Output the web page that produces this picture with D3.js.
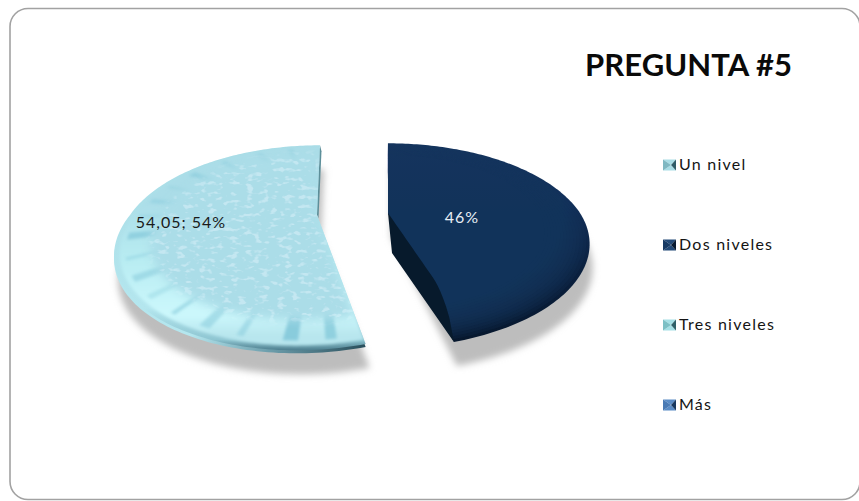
<!DOCTYPE html>
<html>
<head>
<meta charset="utf-8">
<script src="https://cdn.jsdelivr.net/npm/d3@7"></script>
<style>
  html, body { margin: 0; padding: 0; background: #fff; overflow: hidden; }
  svg { display: block; }
  text { font-family: Lato, "Open Sans", sans-serif; }
</style>
</head>
<body>
<svg id="chart" width="859" height="501"></svg>
<script>
// Survey answers for question 5
const categories = ["Un nivel", "Dos niveles", "Tres niveles", "Más"];
const seriesValues = [54.05, 45.95, 0, 0];
const sliceLabels = ["54,05; 54%", "46%", "", ""];
const titleText = "PREGUNTA #5";

// Per-category swatch tones: top/bottom, left, right facets
const swatchTones = [
  ["#a9dde6", "#7fb8c2", "#2f5c68"],
  ["#234a78", "#173a64", "#081a30"],
  ["#a5e0e6", "#7cc0c5", "#2f6068"],
  ["#5a8cc6", "#4a7ab4", "#17375e"]
];

const svg = d3.select("#chart");
const defs = svg.append("defs");

// Chart frame
svg.append("rect")
  .attr("x", 10).attr("y", 8.5).attr("width", 850).attr("height", 491)
  .attr("rx", 18).attr("ry", 18)
  .attr("fill", "#fff").attr("stroke", "#a2a2a2").attr("stroke-width", 1.6);

// Perspective ground plane: depth values nearer the viewer spread further apart
const planeDepth = 92, perspective = 0.32;
function project(hub, angle, r) {
  const X = r * Math.sin(angle), Y = -r * Math.cos(angle);
  const s = 1 / (1 - perspective * Y);
  const shear = Y > 0 ? hub.shearNear : hub.shearFar;
  return [hub.x + (hub.width * X + shear * Y) * s, hub.y + planeDepth * Y * s];
}

const pie = d3.pie().sort(null)
  .startAngle(165.4 * Math.PI / 180)
  .endAngle((165.4 + 360) * Math.PI / 180);
const arcs = pie(seriesValues);

const line = d3.line().curve(d3.curveLinear);
function sectorPoints(hub, a, r) {
  const n = Math.ceil((a.endAngle - a.startAngle) / 0.02);
  const rim = d3.range(n + 1).map(i =>
    project(hub, a.startAngle + (a.endAngle - a.startAngle) * i / n, r));
  return [[hub.x, hub.y], ...rim];
}
const sectorPath = (hub, a, r) => line(sectorPoints(hub, a, r)) + "Z";

// Exploded slice hubs
const hubs = [
  { x: 317, y: 215, width: 187, shearFar: -4, shearNear: -14 },
  { x: 388, y: 213, width: 192, shearFar: 0, shearNear: -3 }
];

// Filters and gradients
const soft = defs.append("filter").attr("id", "shadowBlur")
  .attr("x", "-10%").attr("y", "-10%").attr("width", "120%").attr("height", "120%");
soft.append("feGaussianBlur").attr("stdDeviation", 3.5);

const faint = defs.append("filter").attr("id", "faintBlur")
  .attr("x", "-5%").attr("y", "-5%").attr("width", "110%").attr("height", "110%");
faint.append("feGaussianBlur").attr("stdDeviation", 1.5);

const edgeBlur = defs.append("filter").attr("id", "edgeBlur")
  .attr("x", "-5%").attr("y", "-5%").attr("width", "110%").attr("height", "110%");
edgeBlur.append("feGaussianBlur").attr("stdDeviation", 4);

// Water-drop surface for the light slice
const drops = defs.append("filter").attr("id", "drops")
  .attr("x", "0%").attr("y", "0%").attr("width", "100%").attr("height", "100%");
drops.append("feTurbulence").attr("type", "fractalNoise")
  .attr("baseFrequency", "0.13 0.22").attr("numOctaves", 2).attr("seed", 11).attr("result", "n");
drops.append("feColorMatrix").attr("in", "n").attr("type", "matrix")
  .attr("values", "0 0 0 0 0.55  0 0 0 0 0.80  0 0 0 0 0.88  6 0 0 0 -3.3").attr("result", "spots");
drops.append("feGaussianBlur").attr("in", "spots").attr("stdDeviation", 0.6).attr("result", "spotsSoft");
drops.append("feComposite").attr("in", "spotsSoft").attr("in2", "SourceAlpha").attr("operator", "in").attr("result", "clipped");
const dropsMerge = drops.append("feMerge");
dropsMerge.append("feMergeNode").attr("in", "SourceGraphic");
dropsMerge.append("feMergeNode").attr("in", "clipped");

function gradient(id, x1, y1, x2, y2, stops) {
  const g = defs.append("linearGradient").attr("id", id)
    .attr("gradientUnits", "userSpaceOnUse")
    .attr("x1", x1).attr("x2", x2).attr("y1", y1).attr("y2", y2);
  stops.forEach(([o, c]) => g.append("stop").attr("offset", o).attr("stop-color", c));
}
gradient("lightRim", 0, 140, 0, 350, [[0, "#a8dce6"], [0.8, "#b4e6ee"], [0.95, "#8fc6d2"], [1, "#4f8090"]]);
gradient("lightBevel", 0, 200, 0, 335, [[0, "#abdde8"], [0.45, "#b8ecf2"], [0.85, "#ccf8fc"], [1, "#b8e6ee"]]);
gradient("lightThickness", 190, 0, 365, 0, [[0, "#b4e6ee"], [0.45, "#6d9eac"], [1, "#2a4f5c"]]);
gradient("darkRim", 0, 140, 0, 350, [[0, "#15355e"], [0.3, "#12305a"], [0.6, "#0b2140"], [1, "#06162b"]]);

const plot = svg.append("g");

// Drop shadows on the ground
plot.append("path").attr("d", sectorPath(hubs[0], arcs[0], 1))
  .attr("transform", "translate(4,24)").attr("fill", "#bdbdbd").attr("filter", "url(#shadowBlur)");
plot.append("path").attr("d", sectorPath(hubs[1], arcs[1], 1))
  .attr("transform", "translate(3,24)").attr("fill", "#bdbdbd").attr("filter", "url(#shadowBlur)");

// Light slice: rim, bright bevel, streaks, textured top
const lightArc = arcs[0], lightHub = hubs[0];
const light = plot.append("g");
defs.append("clipPath").attr("id", "lightClip").append("path")
  .attr("d", sectorPath(lightHub, lightArc, 1));
defs.append("mask").attr("id", "dropFade")
  .attr("maskUnits", "userSpaceOnUse")
  .attr("x", 0).attr("y", 0).attr("width", 859).attr("height", 501)
  .append("path")
  .attr("d", sectorPath(lightHub, lightArc, 0.84))
  .attr("fill", "#fff").attr("filter", "url(#edgeBlur)");

// Narrow side wall behind the upper straight edge
const lightTop = project(lightHub, lightArc.endAngle, 1);
light.append("path")
  .attr("d", line([lightTop, [lightTop[0] + 1.5, lightTop[1] + 6], [lightHub.x + 1.5, lightHub.y + 3], [lightHub.x, lightHub.y]]) + "Z")
  .attr("fill", "#5d8f9a");

// Rim thickness under the near edge
light.append("path").attr("d", sectorPath(lightHub, lightArc, 1))
  .attr("transform", "translate(0,3)").attr("fill", "url(#lightThickness)");

light.append("path").attr("d", sectorPath(lightHub, lightArc, 1)).attr("fill", "url(#lightRim)");

const lightInner = light.append("g").attr("clip-path", "url(#lightClip)");
lightInner.append("path").attr("d", sectorPath(lightHub, lightArc, 0.975))
  .attr("fill", "url(#lightBevel)").attr("filter", "url(#faintBlur)");

// Radial streaks in the bevel: each entry is [position along the rim, width, strength]
const rimStreaks = [
  [0.03, 0.045, 0.8], [0.075, 0.06, 0.95], [0.14, 0.03, 0.5], [0.185, 0.05, 0.55], [0.24, 0.025, 0.6],
  [0.29, 0.04, 0.35], [0.34, 0.06, 0.55], [0.40, 0.03, 0.45], [0.46, 0.07, 0.75], [0.53, 0.03, 0.45],
  [0.58, 0.05, 0.45], [0.64, 0.035, 0.35], [0.70, 0.06, 0.6], [0.78, 0.04, 0.45], [0.86, 0.05, 0.3], [0.93, 0.04, 0.35]
];
const arcSpan = lightArc.endAngle - lightArc.startAngle;
const streaks = lightInner.append("g").attr("filter", "url(#faintBlur)");
rimStreaks.forEach(([pos, width, strength]) => {
  const a0 = lightArc.startAngle + pos * arcSpan;
  const a1 = a0 + width;
  streaks.append("path")
    .attr("d", line([
      project(lightHub, a0, 0.74), project(lightHub, a0, 0.95),
      project(lightHub, a1, 0.95), project(lightHub, a1, 0.74)
    ]) + "Z")
    .attr("fill", "#86cadb").attr("opacity", strength);
});

// Textured top surface, feathered into the bevel
lightInner.append("g").attr("mask", "url(#dropFade)")
  .append("path").attr("d", sectorPath(lightHub, lightArc, 0.92))
  .attr("fill", "#abdde8").attr("filter", "url(#drops)");

// Dark slice: rim shading fading to the flat navy top
const darkArc = arcs[1], darkHub = hubs[1];
const dark = plot.append("g");
dark.append("path").attr("d", sectorPath(darkHub, darkArc, 1)).attr("fill", "url(#darkRim)");
d3.range(0.985, 0.78, -0.015).forEach(r => {
  dark.append("path").attr("d", sectorPath(darkHub, darkArc, r))
    .attr("fill", "#16365e").attr("opacity", 0.18);
});

// Exposed side wall along the lower straight edge, rounded over at the rim
const wallDrop = [4, 40];
const tip = project(darkHub, darkArc.endAngle, 1);
const base = r => [
  darkHub.x + wallDrop[0] + (tip[0] - darkHub.x - wallDrop[0]) * r,
  darkHub.y + wallDrop[1] + (tip[1] - darkHub.y - wallDrop[1]) * r
];
const lift = r => r < 0.72 ? 1 : Math.sqrt(Math.max(0, 1 - Math.pow((r - 0.72) / 0.28, 2)));
const wallTop = d3.range(0, 1.001, 0.04).map(r => {
  const b = base(r), l = lift(r);
  return [b[0] - wallDrop[0] * l, b[1] - wallDrop[1] * l];
});
dark.append("path")
  .attr("d", line([base(0), tip, ...wallTop.reverse()]) + "Z")
  .attr("fill", "#071a2c");

// Slice value labels
const labelAnchors = [[181, 224], [462, 219]];
const labelColors = ["#1a1a1a", "#e8eef5"];
plot.selectAll("text.slice-label")
  .data(arcs.filter(d => d.value > 0))
  .join("text")
  .attr("class", "slice-label")
  .attr("x", (d, i) => labelAnchors[i][0])
  .attr("y", (d, i) => labelAnchors[i][1])
  .attr("dominant-baseline", "middle")
  .attr("text-anchor", "middle")
  .attr("font-size", 16)
  .attr("letter-spacing", 1)
  .attr("fill", (d, i) => labelColors[i])
  .text((d, i) => sliceLabels[i]);

// Title
svg.append("text")
  .attr("x", 585).attr("y", 76)
  .attr("font-size", 31).attr("font-weight", 700)
  .attr("fill", "#0a0a0a").attr("textLength", 207)
  .text(titleText);

// Legend
const legendY = d3.scalePoint().domain(categories).range([165, 405]);
const legend = svg.append("g");
const swW = 13, swH = 11, swX = 663;
categories.forEach((c, i) => {
  const y = legendY(c), t = y - swH / 2, b = y + swH / 2, l = swX, r = swX + swW;
  const cx = swX + swW * 0.62, cy = y, tones = swatchTones[i];
  const g = legend.append("g");
  [
    [[[l, t], [r, t], [cx, cy]], tones[0]],
    [[[l, b], [r, b], [cx, cy]], tones[0]],
    [[[l, t], [l, b], [cx, cy]], tones[1]],
    [[[r, t], [r, b], [cx, cy]], tones[2]]
  ].forEach(([pts, fill]) => g.append("path").attr("d", line(pts) + "Z").attr("fill", fill));
  g.append("text")
    .attr("x", 679).attr("y", y + 0.5)
    .attr("dominant-baseline", "middle")
    .attr("font-size", 16).attr("fill", "#141414")
    .attr("letter-spacing", 1.25)
    .text(c);
});
</script>
</body>
</html>
